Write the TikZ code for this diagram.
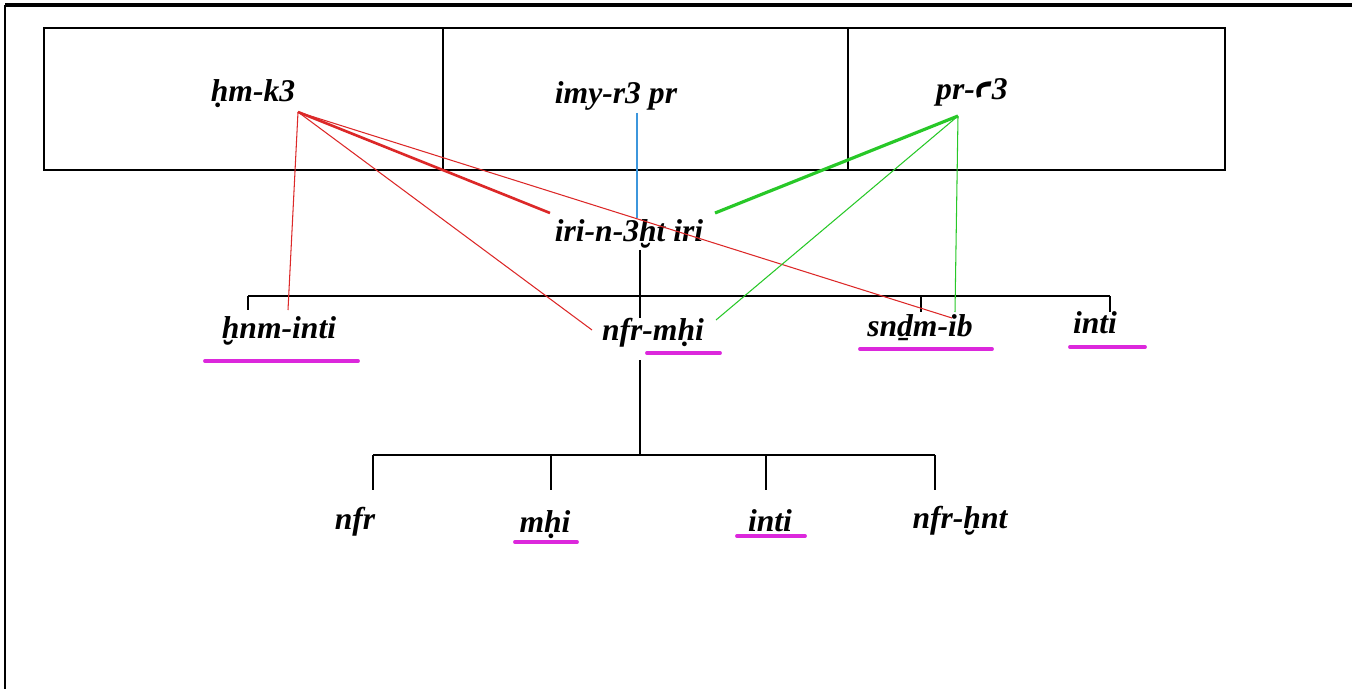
\documentclass[tikz,border=0pt]{standalone}
\usepackage{fontspec}
\setmainfont{Liberation Serif}
\newfontfamily\dvfont{DejaVu Sans}
\definecolor{myred}{RGB}{220,40,40}
\definecolor{mygreen}{RGB}{40,200,40}
\definecolor{myblue}{RGB}{60,150,220}
\definecolor{mymag}{RGB}{220,40,220}
\begin{document}
\begin{tikzpicture}[x=0.02cm,y=-0.02cm,
  lab/.style={font=\fontsize{18}{21}\selectfont\bfseries\itshape, inner sep=0pt, anchor=center},
  tree/.style={black, line width=0.8pt},
  redl/.style={myred, line width=0.6pt},
  greenl/.style={mygreen, line width=0.6pt},
  ul/.style={mymag, line width=2.2pt, line cap=round}]
\useasboundingbox (0,0) rectangle (1352,689);
% frame
\draw[line width=2pt] (5,5) -- (1352,5);
\draw[line width=1.4pt] (5,5) -- (5,689);
% table
\draw[tree] (44,28) rectangle (1225,170);
\draw[tree] (443,28) -- (443,170);
\draw[tree] (848,28) -- (848,170);
% labels
\node[lab] (hmk) at (253,94) {ḥm-k3};
\node[lab] (imy) at (616,96) {imy-r3 pr};
\node[lab] (pra) at (972,92) {pr-{\dvfont\bfseries\itshape ꜥ}3};
\node[lab] (iri) at (629,234) {iri-n-3ḫt iri};
\node[lab] (hnm) at (279,331) {ḫnm-inti};
\node[lab] (nfm) at (653,333) {nfr-mḥi};
\node[lab] (snd) at (920,328) {snḏm-ib};
\node[lab] (int) at (1095,323) {inti};
\node[lab] (nfr) at (355,522) {nfr};
\node[lab] (mhi) at (545,525) {mḥi};
\node[lab] (int2) at (770,521) {inti};
\node[lab] (nfh) at (960,521) {nfr-ḫnt};
% attachment points
\coordinate (hmkA) at (298,112);
\coordinate (praA) at (958,116);
\coordinate (imyA) at (637,113);
\coordinate (iriT) at (637,218);
\coordinate (iriL) at (550,213);
\coordinate (iriR) at (715,213);
\coordinate (hnmT) at (288,310);
\coordinate (nfmL) at (592,330);
\coordinate (nfmR) at (716,320);
\coordinate (sndT) at (952,318);
\coordinate (sndG) at (955,312);
\coordinate (iriB) at (640,250);
\coordinate (bar1) at (640,296);
\coordinate (nfmB) at (640,360);
\coordinate (bar2) at (640,455);
% tree level 1
\draw[tree] (iriB) -- (bar1);
\draw[tree] (248,296) -- (1110,296);
\draw[tree] (248,296) -- (248,310);
\draw[tree] (bar1) -- (640,318);
\draw[tree] (921,296) -- (921,312);
\draw[tree] (1110,296) -- (1110,312);
% tree level 2
\draw[tree] (nfmB) -- (bar2);
\draw[tree] (373,455) -- (935,455);
\draw[tree] (373,455) -- (373,490);
\draw[tree] (551,455) -- (551,490);
\draw[tree] (766,455) -- (766,490);
\draw[tree] (935,455) -- (935,490);
% blue
\draw[myblue, line width=0.7pt] (imyA) -- (iriT);
% red
\draw[redl] (hmkA) -- (hnmT);
\draw[redl] (hmkA) -- (nfmL);
\draw[redl, line width=1.5pt] (hmkA) -- (iriL);
\draw[redl] (hmkA) -- (sndT);
% green
\draw[greenl, line width=1.8pt] (praA) -- (iriR);
\draw[greenl] (praA) -- (nfmR);
\draw[greenl] (praA) -- (sndG);
% underlines
\draw[ul] (205,361) -- (358,361);
\draw[ul] (647,353) -- (720,353);
\draw[ul] (860,349) -- (992,349);
\draw[ul] (1070,347) -- (1145,347);
\draw[ul] (515,542) -- (577,542);
\draw[ul] (737,536) -- (805,536);
\end{tikzpicture}
\end{document}
